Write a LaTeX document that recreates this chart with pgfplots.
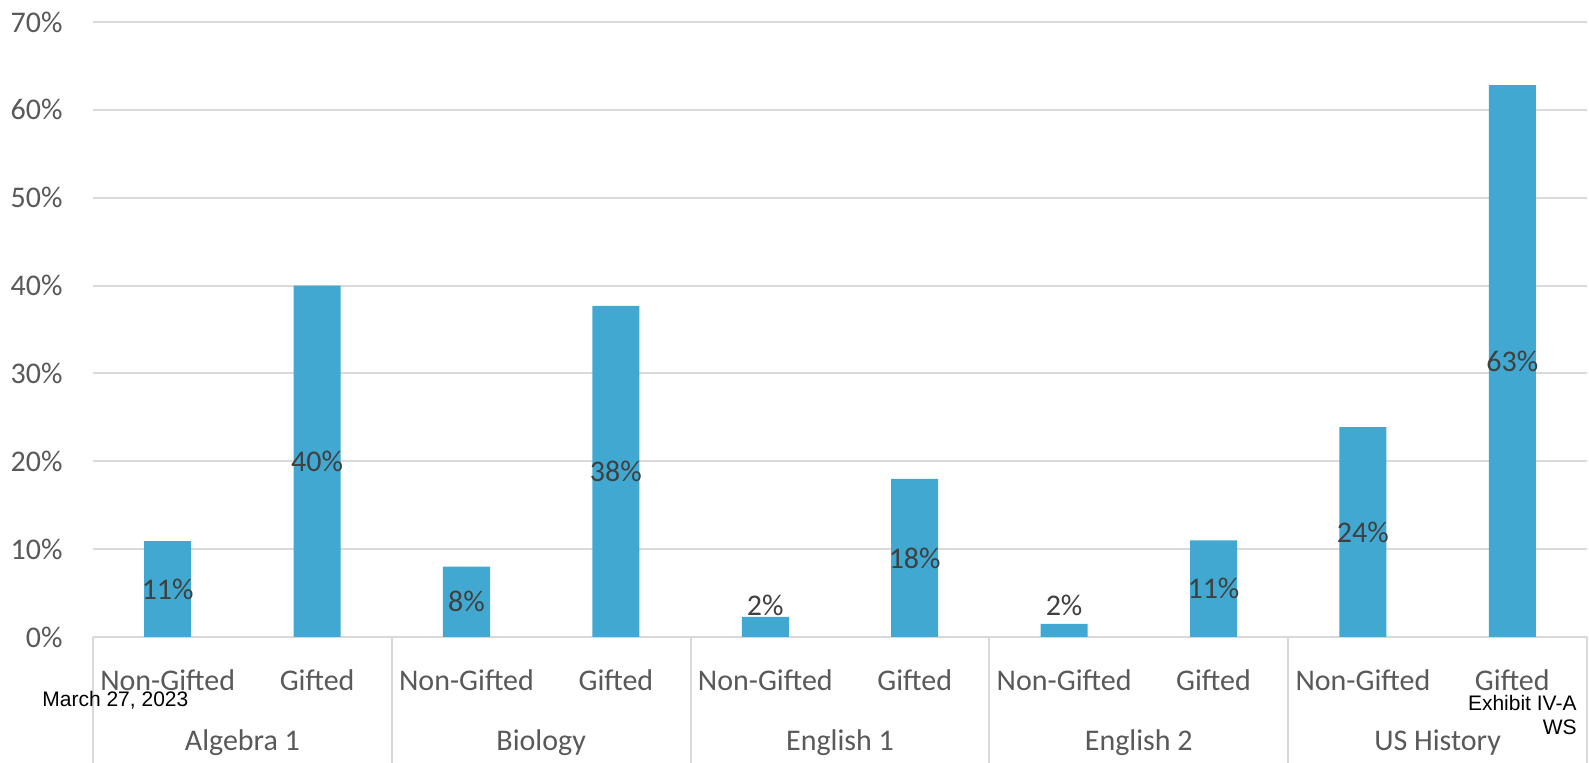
\documentclass[border=0pt]{standalone}
\usepackage{fontspec}
\setmainfont{Carlito}
\newfontfamily\arialfont{Liberation Sans}
\usepackage{pgfplots}
\usepackage{pgfplotstable}
\pgfplotsset{compat=1.18}

\definecolor{barblue}{RGB}{65,169,209}
\definecolor{gridgray}{RGB}{217,217,217}
\definecolor{ticktext}{RGB}{89,89,89}
\definecolor{valtext}{RGB}{64,64,64}

% bar heights (percent)
\pgfplotstableread{
x val
0 10.9
1 40.0
2 8.0
3 37.7
4 2.3
5 18.0
6 1.5
7 11.0
8 23.9
9 62.8
}\bars

% data label positions and text
\pgfplotstableread{
x y lab
0 5.45 11
1 20.0 40
2 4.0 8
3 18.85 38
4 3.64 2
5 9.0 18
6 3.64 2
7 5.5 11
8 11.95 24
9 31.4 63
}\labels

\begin{document}
\begin{tikzpicture}
\begin{axis}[
    scale only axis,
    width=747pt, height=307.5pt,
    xmin=-0.5, xmax=9.5,
    ymin=0, ymax=70,
    ytick={0,10,...,70},
    yticklabel={\pgfmathprintnumber{\tick}\%},
    xtick={0,...,9},
    xticklabels={Non-Gifted,Gifted,Non-Gifted,Gifted,Non-Gifted,Gifted,Non-Gifted,Gifted,Non-Gifted,Gifted},
    axis line style={draw=none},
    major tick length=0pt,
    ymajorgrids,
    grid style={gridgray, line width=1pt},
    /pgf/number format/assume math mode=true,
    ticklabel style={font=\fontsize{15}{18}\selectfont, text=ticktext, inner sep=0pt},
    yticklabel style={anchor=east, xshift=-15pt},
    xticklabel style={anchor=center, yshift=-21.5pt},
    clip=false,
]
\addplot[ybar, bar width=23.5pt, bar shift=0pt, fill=barblue, draw=none] table[x=x, y=val] {\bars};
\addplot[draw=none, mark=none, point meta=explicit symbolic,
    nodes near coords={\pgfplotspointmeta\%},
    every node near coord/.append style={anchor=center, inner sep=0pt,
        font=\fontsize{15}{18}\selectfont, text=valtext}]
    table[x=x, y=y, meta=lab] {\labels};

\pgfplotsinvokeforeach{-0.5,1.5,3.5,5.5,7.5,9.5}{
    \draw[gridgray, line width=1pt] (axis cs:#1,0) -- ++(0pt,-63pt);
}
\node[font=\fontsize{15}{18}\selectfont, text=ticktext] at ([yshift=-53pt]axis cs:0.5,0) {Algebra 1};
\node[font=\fontsize{15}{18}\selectfont, text=ticktext] at ([yshift=-53pt]axis cs:2.5,0) {Biology};
\node[font=\fontsize{15}{18}\selectfont, text=ticktext] at ([yshift=-53pt]axis cs:4.5,0) {English 1};
\node[font=\fontsize{15}{18}\selectfont, text=ticktext] at ([yshift=-53pt]axis cs:6.5,0) {English 2};
\node[font=\fontsize{15}{18}\selectfont, text=ticktext] at ([yshift=-53pt]axis cs:8.5,0) {US History};

\coordinate (sw) at (rel axis cs:0,0);
\coordinate (se) at (rel axis cs:1,0);
\coordinate (ne) at (rel axis cs:1,1);
\end{axis}

\node[anchor=west, inner sep=0pt, font=\arialfont\fontsize{10.5}{12}\selectfont] at ([xshift=-25.5pt, yshift=-31.5pt]sw) {March 27, 2023};
\node[anchor=east, inner sep=0pt, font=\arialfont\fontsize{10.5}{12}\selectfont] at ([xshift=-5pt, yshift=-33pt]se) {Exhibit IV-A};
\node[anchor=east, inner sep=0pt, font=\arialfont\fontsize{10.5}{12}\selectfont] at ([xshift=-5pt, yshift=-45pt]se) {WS};

\pgfresetboundingbox
\path[use as bounding box] ([xshift=-46.5pt, yshift=-63pt]sw) rectangle ([xshift=1pt, yshift=11pt]ne);
\end{tikzpicture}
\end{document}
